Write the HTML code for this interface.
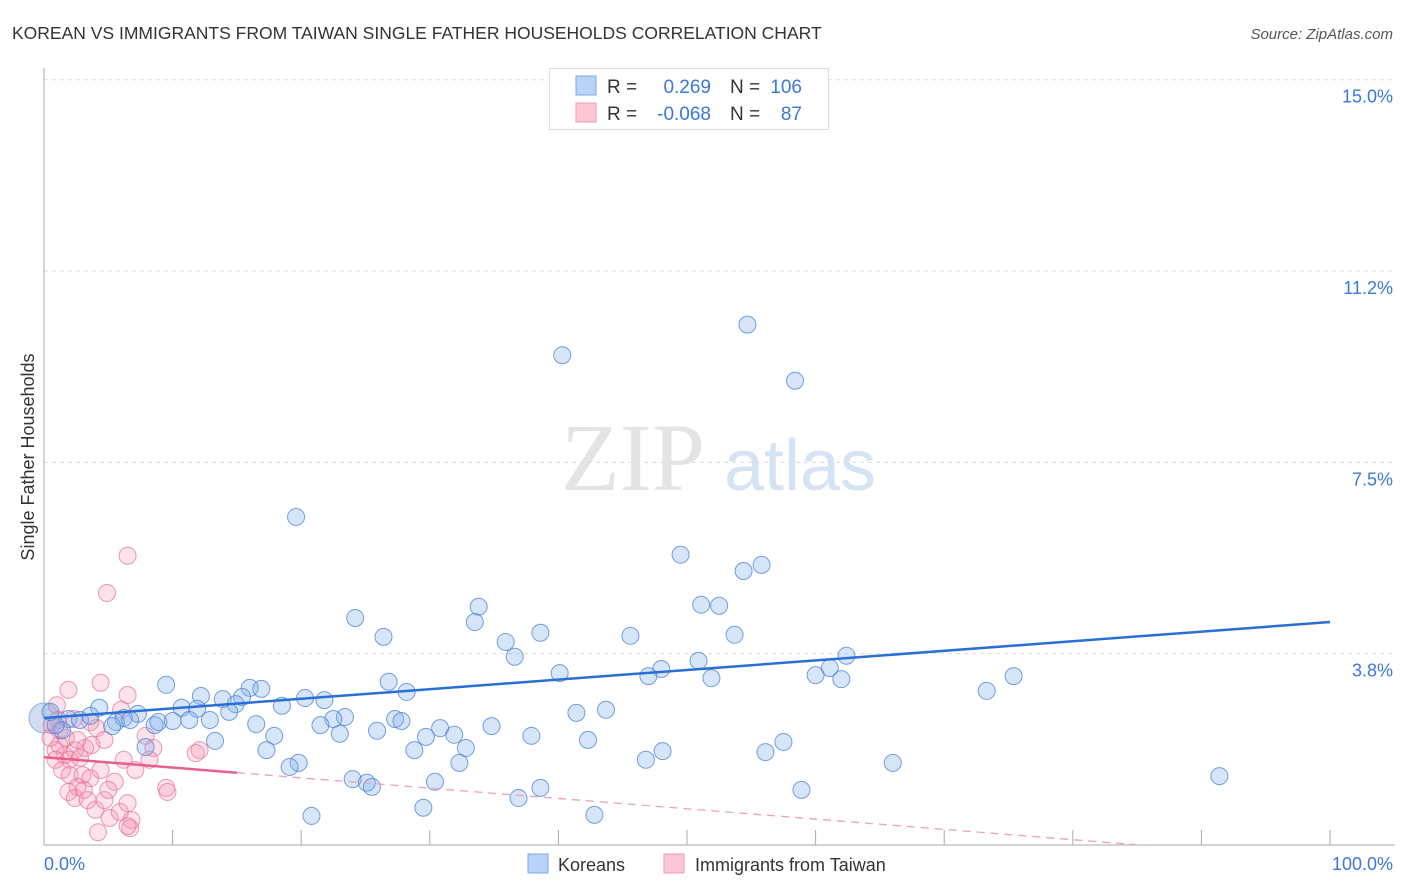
<!DOCTYPE html>
<html><head><meta charset="utf-8"><style>
body{margin:0;background:#fff;font-family:"Liberation Sans",sans-serif;}
svg{display:block}
</style></head><body>
<svg id="chart" width="1406" height="892" viewBox="0 0 1406 892">
<text x="12" y="39" font-size="17.5" fill="#333">KOREAN VS IMMIGRANTS FROM TAIWAN SINGLE FATHER HOUSEHOLDS CORRELATION CHART</text>
<text x="1393" y="39" font-size="15" fill="#555" font-style="italic" text-anchor="end">Source: ZipAtlas.com</text>
<g>
<text x="633" y="490" font-size="96" font-family="Liberation Serif,serif" fill="#e4e4e4" text-anchor="middle">ZIP</text>
<text x="800" y="490" font-size="72" fill="#d5e3f5" text-anchor="middle">atlas</text>
</g>
<g id="grid"></g>
<g id="axes"></g>
<text transform="translate(34,457) rotate(-90)" font-size="18" fill="#333" text-anchor="middle">Single Father Households</text>
<text x="44" y="870" font-size="18" fill="#3b78d8">0.0%</text>
<text x="1393" y="870" font-size="18" fill="#3b78d8" text-anchor="end">100.0%</text>
<g id="pts"></g>
<g id="reg"></g>
<g>
<rect x="549.5" y="68.5" width="279" height="61" fill="#fff" stroke="#ddd"/>
<rect x="576" y="76" width="20" height="19" fill="#b8d3f4" stroke="#7aa8e6"/>
<rect x="576" y="103" width="20" height="19" fill="#fbc6d6" stroke="#ee9ab5"/>
<text x="607" y="93" font-size="19" fill="#333">R =</text>
<text x="711" y="93" font-size="19" fill="#3b78d8" text-anchor="end">0.269</text>
<text x="730" y="93" font-size="19" fill="#333">N =</text>
<text x="802" y="93" font-size="19" fill="#3b78d8" text-anchor="end">106</text>
<text x="607" y="120" font-size="19" fill="#333">R =</text>
<text x="711" y="120" font-size="19" fill="#3b78d8" text-anchor="end">-0.068</text>
<text x="730" y="120" font-size="19" fill="#333">N =</text>
<text x="802" y="120" font-size="19" fill="#3b78d8" text-anchor="end">87</text>
</g>
<g>
<rect x="528" y="854" width="20" height="19" fill="#b8d3f4" stroke="#7aa8e6"/>
<text x="558" y="871" font-size="18" fill="#333">Koreans</text>
<rect x="664" y="854" width="20" height="19" fill="#fbc6d6" stroke="#ee9ab5"/>
<text x="695" y="871" font-size="18" fill="#333">Immigrants from Taiwan</text>
</g>
</svg>
<script>
const yTicks=[3.8,7.5,11.2,15.0];
const yTickVals=[3.75,7.5,11.25,15];
const xTicks=[10,20,30,40,50,60,70,80,90,100];
const koreanX=[40.3,54.7,58.4,19.6,49.5,55.8,54.4,51.1,52.5,33.8,24.2,33.5,38.6,26.4,45.6,53.7,35.9,36.6,62.4,50.9,48.0,47.0,40.1,61.1,60.0,62.0,51.9,75.4,73.3,9.5,26.8,16.0,16.9,28.2,12.2,20.3,21.8,13.9,15.4,14.9,18.5,10.7,11.9,14.4,23.4,22.5,27.3,27.8,43.7,41.4,4.3,7.3,1.9,2.8,5.6,6.2,8.6,8.9,11.3,12.9,16.5,10.0,21.5,30.8,34.8,25.9,31.9,23.0,29.7,37.9,42.3,13.3,17.9,17.3,28.8,32.8,57.5,56.1,48.1,46.8,32.3,19.8,19.1,66.0,91.4,24.0,25.1,25.5,30.4,38.6,58.9,36.9,29.5,20.8,42.8,7.9,5.3,1.4,0.9,0.5,3.6,6.7];
const koreanY=[9.6,10.2,9.1,6.43,5.69,5.49,5.37,4.71,4.69,4.67,4.45,4.37,4.16,4.08,4.10,4.12,3.98,3.69,3.71,3.61,3.45,3.31,3.37,3.47,3.33,3.25,3.27,3.31,3.02,3.14,3.20,3.08,3.06,3.00,2.92,2.88,2.84,2.86,2.90,2.76,2.73,2.69,2.67,2.61,2.51,2.47,2.47,2.43,2.65,2.59,2.69,2.57,2.47,2.45,2.41,2.49,2.35,2.41,2.45,2.45,2.37,2.43,2.35,2.29,2.33,2.24,2.16,2.18,2.12,2.14,2.06,2.04,2.14,1.86,1.86,1.90,2.02,1.82,1.84,1.67,1.61,1.61,1.53,1.61,1.35,1.29,1.22,1.14,1.24,1.12,1.08,0.92,0.73,0.57,0.59,1.92,2.33,2.25,2.35,2.61,2.53,2.45];
const taiwanX=[6.5,4.9,1.9,4.4,6.5,1.0,2.3,4.1,6.0,4.7,7.9,8.5,8.2,12.1,11.8,1.2,0.9,1.6,2.0,2.4,2.8,3.2,1.4,2.0,3.0,2.6,3.6,1.9,2.4,3.4,4.0,4.7,5.1,5.9,6.5,6.8,6.7,4.2,6.5,5.5,7.1,9.5,9.6,1.2,0.5,0.9,1.7,2.6,3.7,4.4,5.0,3.1,6.2,1.1,0.6,3.6];
const taiwanY=[5.67,4.94,3.04,3.18,2.94,2.74,2.47,2.29,2.65,2.06,2.14,1.90,1.67,1.86,1.80,1.96,1.86,1.76,1.67,1.86,1.71,1.90,1.47,1.37,1.37,1.14,1.31,1.04,0.92,0.88,0.69,0.88,0.53,0.65,0.82,0.49,0.33,0.25,0.37,1.24,1.47,1.12,1.04,2.25,2.10,1.67,2.10,2.06,1.96,1.47,1.08,1.08,1.67,2.45,2.35,2.41];
const koreanReg=[2.49,4.37];
const taiwanReg=[1.72,-0.0202];
const X0=44,X1=1330,Y0=845,PPY=51.02;
function sx(v){return X0+(X1-X0)*v/100;}
function sy(v){return Y0-v*PPY;}
const NS="http://www.w3.org/2000/svg";
function mk(tag,attrs,parent){const e=document.createElementNS(NS,tag);for(const k in attrs)e.setAttribute(k,attrs[k]);document.getElementById(parent).appendChild(e);return e;}
yTickVals.forEach((v,i)=>{
 const g=mk('line',{x1:X0,x2:1395,y1:sy(v),y2:sy(v),stroke:'#ddd','stroke-dasharray':'4,4'},'grid');
 
 
 const t=mk('text',{x:1393,y:sy(v)+23,'font-size':18,fill:'#3b78d8','text-anchor':'end'},'grid');
 t.textContent=yTicks[i].toFixed(1)+'%';
 
 
});
const ya=mk('line',{x1:X0,x2:X0,y1:68,y2:Y0,stroke:'#aaa'},'axes');


const xa=mk('line',{x1:X0,x2:1395,y1:Y0,y2:Y0,stroke:'#aaa'},'axes');


xTicks.forEach(v=>{
 const t=mk('line',{x1:sx(v),x2:sx(v),y1:Y0-15,y2:Y0,stroke:'#aaa'},'axes');
 
 
});
const big=mk('circle',{cx:sx(0),cy:sy(koreanReg[0]),r:15,fill:'rgba(150,180,225,0.45)',stroke:'#8fb1e3'},'pts');


taiwanX.forEach((x,i)=>{
 const c=mk('circle',{cx:sx(x),cy:sy(taiwanY[i]),r:8.5,fill:'rgba(245,150,180,0.28)',stroke:'rgba(232,110,150,0.7)'},'pts');
 
 
});
koreanX.forEach((x,i)=>{
 const c=mk('circle',{cx:sx(x),cy:sy(koreanY[i]),r:8.5,fill:'rgba(130,175,235,0.32)',stroke:'rgba(70,130,215,0.75)'},'pts');
 
 
});
const kl=mk('line',{x1:sx(0),y1:sy(koreanReg[0]),x2:sx(100),y2:sy(koreanReg[1]),stroke:'#2a6fd6','stroke-width':2.5},'reg');


const tEnd=-taiwanReg[0]/taiwanReg[1];
const ts=mk('line',{x1:sx(0),y1:sy(taiwanReg[0]),x2:sx(15),y2:sy(taiwanReg[0]+15*taiwanReg[1]),stroke:'#e8608a','stroke-width':2.5},'reg');


const td=mk('line',{x1:sx(15),y1:sy(taiwanReg[0]+15*taiwanReg[1]),x2:sx(tEnd),y2:sy(0),stroke:'#eea0b8','stroke-width':1.3,'stroke-dasharray':'8,6'},'reg');


</script>
</body></html>
